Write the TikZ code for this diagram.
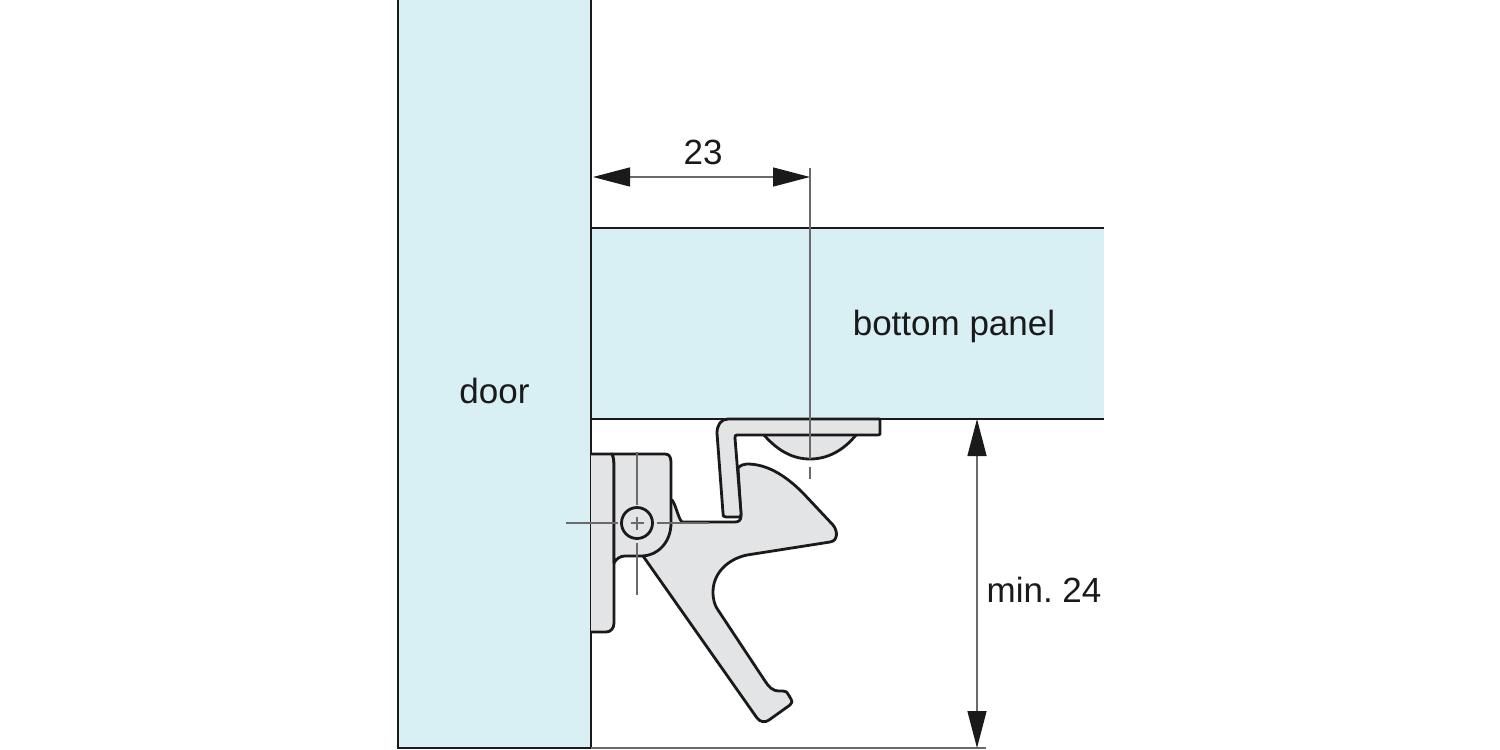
\documentclass[tikz,border=0pt]{standalone}
\usepackage{fontspec}
\setmainfont{Liberation Sans}
\usetikzlibrary{arrows.meta}
\definecolor{panelblue}{HTML}{D8EFF4}
\definecolor{partgray}{HTML}{E3E4E6}
\definecolor{ink}{HTML}{1A1A1A}
\definecolor{thin}{HTML}{6A6A6A}
\tikzset{
  part/.style={draw=ink,fill=partgray,line width=1.4pt,line join=round},
  center line/.style={draw=thin,line width=0.55pt},
  dim/.style={draw=thin,line width=0.7pt,{Triangle[length=18.5pt,width=9.5pt,fill=ink,color=ink]}-{Triangle[length=18.5pt,width=9.5pt,fill=ink,color=ink]}},
  ext/.style={draw=thin,line width=0.6pt},
  label/.style={text=ink,font=\fontsize{17.5pt}{20pt}\selectfont,inner sep=0pt}
}
\begin{document}
\frenchspacing
\begin{tikzpicture}[x=0.5pt,y=-0.5pt]
\useasboundingbox (0,0) rectangle (1500,750);
% panels
\fill[panelblue] (398,-3) rectangle (591,748);
\fill[panelblue] (591,228) rectangle (1104,419);
\draw[ink,line width=1.4pt] (398,-3) -- (398,748) -- (591,748) -- (591,-3);
\draw[ink,line width=1.4pt] (591,228) -- (1104,228);
\draw[ink,line width=1.4pt] (591,419) -- (1104,419);
% half round
\draw[part] (764,435) .. controls (778,451) and (793,459) .. (810,459) .. controls (827,459) and (843,451) .. (856,435);
% latch
\path[part] (672,500) .. controls (676,505) and (678,518) .. (682,522) -- (735,522)
  .. controls (739,522) and (741,520) .. (741,516) -- (738,468)
  .. controls (741,465) and (744,464) .. (747,464)
  .. controls (765,464) and (783,473) .. (803,493)
  -- (833,525) .. controls (838,531) and (838,541) .. (830,542)
  -- (747,555) .. controls (728,559) and (713,573) .. (713,592)
  .. controls (713,600) and (715,606) .. (718,610)
  -- (765,681) .. controls (769,687) and (772,691) .. (780,691)
  -- (783,691) .. controls (786,691) and (787,692) .. (788,694)
  -- (791,699) .. controls (793,701) and (792,703) .. (790,705)
  -- (769,720) .. controls (765,723) and (760,722) .. (757,718)
  -- (643,556) -- (650,530) -- cycle;
% bracket
\draw[part] (728,419) -- (880,419) -- (880,433) .. controls (880,434) and (880,435) .. (878,435)
  -- (737,435) .. controls (735,435) and (735,436) .. (735,438)
  -- (741,513) .. controls (741,516) and (741,517) .. (739,517)
  -- (726,517) .. controls (723,517) and (723,516) .. (723,513)
  -- (717,433) .. controls (717,425) and (721,419) .. (728,419) -- cycle;
% base on door
\draw[part] (591,454) -- (612,454) .. controls (614,458) and (614,462) .. (614,468)
  -- (614,623) .. controls (614,628) and (611,632) .. (606,632) -- (591,632);
% body
\draw[part] (612,454) -- (665,454) .. controls (670,454) and (671,458) .. (671,463)
  -- (671,523) .. controls (671,542) and (658,556) .. (641,556)
  -- (625,556) .. controls (620,556) and (616,559) .. (614,563)
  -- (614,468) .. controls (614,462) and (614,458) .. (612,454) -- cycle;
% pivot
\node[circle,draw=ink,line width=1.4pt,fill=partgray,minimum size=15.5pt,inner sep=0pt] (pivot) at (637,523) {};
% centre lines
\coordinate (vA) at (637,452); \coordinate (vB) at (637,505);
\coordinate (vC) at (637,517); \coordinate (vD) at (637,530);
\coordinate (vE) at (637,543); \coordinate (vF) at (637,595);
\coordinate (hA) at (566,523); \coordinate (hB) at (618,523);
\coordinate (hC) at (631,523); \coordinate (hD) at (644,523);
\coordinate (hE) at (657,523); \coordinate (hF) at (709,523);
\draw[center line] (vA) -- (vB) (vC) -- (vD) (vE) -- (vF);
\draw[center line] (hA) -- (hB) (hC) -- (hD) (hE) -- (hF);
\coordinate (gA) at (810,467); \coordinate (gB) at (810,479);
\draw[center line] (gA) -- (gB);
% dimensions
\coordinate (dLeft) at (593,177); \coordinate (dRight) at (810,177);
\coordinate (eTop) at (810,168); \coordinate (eBot) at (810,459);
\draw[ext] (eTop) -- (eBot);
\draw[dim] (dLeft) -- (dRight);
\coordinate (bL) at (591,748); \coordinate (bR) at (986,748);
\draw[ext] (bL) -- (bR);
\coordinate (mTop) at (977,419); \coordinate (mBot) at (977,748);
\draw[dim] (mTop) -- (mBot);
% labels
\node[label] (n23) at (703,152) {23};
\node[label] (door) at (494.5,391) {door};
\node[label] (bottom) at (954,326) {bottom panel};
\node[label] (min) at (1044,590) {min. 24};
\end{tikzpicture}
\end{document}
